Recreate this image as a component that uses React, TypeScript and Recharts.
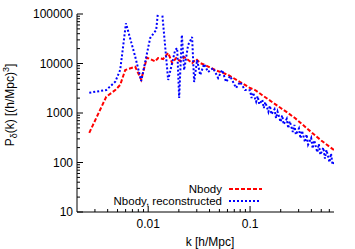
import { LineChart, Line, XAxis, YAxis } from "recharts";

// red: N-body power spectrum, blue: reconstructed
const nbodyK = [
  0.00264, 0.00388, 0.00475, 0.00531, 0.00595, 0.00746, 0.00854, 0.0097,
  0.0109, 0.0117, 0.0125, 0.014, 0.0157, 0.0172, 0.0188, 0.0206, 0.0225,
  0.0247, 0.027, 0.0296, 0.0324, 0.0362, 0.0454, 0.0608, 0.0798, 0.1, 0.112,
  0.131, 0.2, 0.236, 0.276, 0.405, 0.5, 0.667,
];
const nbodyP = [
  398, 2140, 2900, 3700, 7400, 8600, 4700, 13100, 11800, 11000, 12900, 12300,
  16300, 10200, 12900, 11200, 13500, 11800, 10200, 12300, 10200, 9300, 7390,
  5900, 4230, 3200, 2910, 2310, 1260, 1000, 790, 400, 278, 178,
];

const reconK = [
  0.00264, 0.00388, 0.00475, 0.00531, 0.00605, 0.00746, 0.00854, 0.01046,
  0.01198, 0.01311, 0.0157, 0.0184, 0.01925, 0.02014, 0.0214, 0.02254,
  0.02466, 0.02698, 0.02825, 0.0302, 0.0324, 0.0354, 0.0387, 0.0434, 0.0486,
  0.0532, 0.0582, 0.0637, 0.0729, 0.0798, 0.0893,
  0.1, 0.1035, 0.1072, 0.1109, 0.1148, 0.1189, 0.123, 0.1274, 0.1318, 0.1365,
  0.1413, 0.1462, 0.1514, 0.1567, 0.1622, 0.1679, 0.1738, 0.1799, 0.1862,
  0.1928, 0.1995, 0.2065, 0.2138, 0.2213, 0.2291, 0.2371, 0.2455, 0.2541,
  0.263, 0.2723, 0.2818, 0.2917, 0.302, 0.3126, 0.3236, 0.335, 0.3467, 0.3589,
  0.3715, 0.3846, 0.3981, 0.4121, 0.4266, 0.4416, 0.4571, 0.4732, 0.4898,
  0.507, 0.5248, 0.5433, 0.5623, 0.5821, 0.6026, 0.6237, 0.6457, 0.667,
];
const reconP = [
  2570, 2915, 4290, 7390, 64900, 13700, 4430, 32700, 47500, 300000, 4640,
  18700, 20600, 2010, 37600, 7390, 23600, 34300, 4230, 11800, 5860, 9770, 6730,
  8110, 5090, 7390, 4230, 5590, 3200, 4230, 2915,
  2884, 2014, 2582, 2090, 1690, 2183, 1503, 1663, 1849, 1259, 1656, 1324, 1057,
  1400, 940, 1052, 1186, 787, 1062, 838, 661, 897, 587, 667, 760, 492, 681,
  531, 413, 575, 367, 422, 488, 308, 437, 336, 258, 369, 230, 267, 313, 192,
  280, 213, 161, 237, 144, 169, 200, 120, 179, 135, 101, 152, 90, 107,
];

const seriesNames = ["Nbody", "Nbody, reconstructed"];
const seriesColors = ["#ff0000", "#0000ff"];
const seriesDash = ["4 2", "2 2"];
const xTicks = [
  0.003, 0.004, 0.005, 0.006, 0.007, 0.008, 0.009, 0.01, 0.02, 0.03, 0.04,
  0.05, 0.06, 0.07, 0.08, 0.09, 0.1, 0.2, 0.3, 0.4, 0.5, 0.6,
];
const yTicks = [
  10, 20, 30, 40, 50, 60, 70, 80, 90, 100, 200, 300, 400, 500, 600, 700, 800,
  900, 1000, 2000, 3000, 4000, 5000, 6000, 7000, 8000, 9000, 10000, 20000,
  30000, 40000, 50000, 60000, 70000, 80000, 90000, 100000,
];

const nbodyData = nbodyK.map((k, i) => ({ k, p: nbodyP[i] }));
const reconData = reconK.map((k, i) => ({ k, p: reconP[i] }));

const FONT = "'Liberation Sans', Arial, Helvetica, sans-serif";
const X_DOMAIN = [0.002, 0.667];
const Y_DOMAIN = [10, 100000];

const isMajor = (v: number) =>
  Math.abs(Math.log10(v) - Math.round(Math.log10(v))) < 1e-6;

function XTick(props: any) {
  const { x, y, payload, side } = props;
  const v = payload.value;
  const len = isMajor(v) ? 6 : 3;
  const top = side === "top";
  return (
    <g>
      <line x1={x} x2={x} y1={y} y2={top ? y + len : y - len} stroke="#000" />
      {!top && isMajor(v) && (
        <text x={x} y={y + 16} textAnchor="middle" fontSize={12} fontFamily={FONT} fill="#000">
          {String(v)}
        </text>
      )}
    </g>
  );
}

function YTick(props: any) {
  const { x, y, payload, side } = props;
  const v = payload.value;
  const len = isMajor(v) ? 6 : 3;
  const right = side === "right";
  return (
    <g>
      <line x1={x} x2={right ? x - len : x + len} y1={y} y2={y} stroke="#000" />
      {!right && isMajor(v) && (
        <text x={x - 4} y={y + 4} textAnchor="end" fontSize={12} fontFamily={FONT} fill="#000">
          {String(v)}
        </text>
      )}
    </g>
  );
}

export default function App() {
  return (
    <div style={{ position: "absolute", left: 0, top: 0, width: 355, height: 249, background: "#fff" }}>
      <LineChart
        width={355}
        height={249}
        margin={{ top: 14, right: 21, bottom: 0, left: 0 }}
      >
        <XAxis
          dataKey="k"
          type="number"
          scale="log"
          domain={X_DOMAIN}
          allowDataOverflow
          ticks={xTicks}
          interval={0}
          height={37}
          tickSize={0}
          tickMargin={0}
          tickLine={false}
          axisLine={{ stroke: "#000" }}
          tick={(p: any) => <XTick {...p} side="bottom" />}
        />
        <XAxis
          xAxisId="top"
          orientation="top"
          dataKey="k"
          type="number"
          scale="log"
          domain={X_DOMAIN}
          allowDataOverflow
          ticks={xTicks}
          interval={0}
          height={0}
          tickSize={0}
          tickMargin={0}
          tickLine={false}
          axisLine={{ stroke: "#000" }}
          tick={(p: any) => <XTick {...p} side="top" />}
        />
        <YAxis
          type="number"
          scale="log"
          domain={Y_DOMAIN}
          allowDataOverflow
          ticks={yTicks}
          interval={0}
          width={77}
          tickSize={0}
          tickMargin={0}
          tickLine={false}
          axisLine={{ stroke: "#000" }}
          tick={(p: any) => <YTick {...p} side="left" />}
          label={{
            content: () => (
              <text
                x={14}
                y={105}
                transform="rotate(-90 14 105)"
                textAnchor="middle"
                fontSize={12}
                fontFamily={FONT}
                fill="#000"
              >
                P<tspan dy={3} fontSize={9}>δ</tspan>
                <tspan dy={-3}>(k) [(h/Mpc)</tspan>
                <tspan dy={-5} fontSize={9}>3</tspan>
                <tspan dy={5}>]</tspan>
              </text>
            ),
          }}
        />
        <YAxis
          yAxisId="right"
          orientation="right"
          type="number"
          scale="log"
          domain={Y_DOMAIN}
          allowDataOverflow
          ticks={yTicks}
          interval={0}
          width={0}
          tickSize={0}
          tickMargin={0}
          tickLine={false}
          axisLine={{ stroke: "#000" }}
          tick={(p: any) => <YTick {...p} side="right" />}
        />
        <Line
          data={nbodyData}
          dataKey="p"
          name={seriesNames[0]}
          stroke={seriesColors[0]}
          strokeWidth={2}
          strokeDasharray={seriesDash[0]}
          dot={false}
          isAnimationActive={false}
          type="linear"
        />
        <Line
          data={reconData}
          dataKey="p"
          name={seriesNames[1]}
          stroke={seriesColors[1]}
          strokeWidth={2}
          strokeDasharray={seriesDash[1]}
          dot={false}
          isAnimationActive={false}
          type="linear"
        />
      </LineChart>
      <svg
        width={355}
        height={249}
        style={{ position: "absolute", left: 0, top: 0, pointerEvents: "none" }}
      >
        <text x={210} y={246} textAnchor="middle" fontSize={12} fontFamily={FONT} fill="#000">
          k [h/Mpc]
        </text>
        {seriesNames.map((name, i) => (
          <g key={name}>
            <text x={222} y={193 + i * 12} textAnchor="end" fontSize={11.5} fontFamily={FONT} fill="#000">
              {name}
            </text>
            <line
              x1={229}
              x2={i === 0 ? 262 : 260}
              y1={189 + i * 12}
              y2={189 + i * 12}
              stroke={seriesColors[i]}
              strokeWidth={2}
              strokeDasharray={seriesDash[i]}
            />
          </g>
        ))}
      </svg>
    </div>
  );
}
